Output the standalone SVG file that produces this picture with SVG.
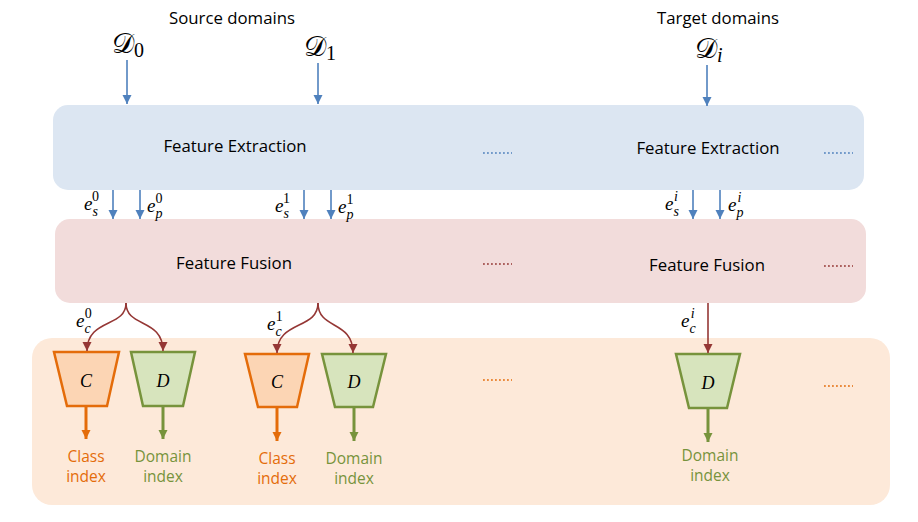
<svg xmlns="http://www.w3.org/2000/svg" width="918" height="522" viewBox="0 0 918 522">
<defs>
<marker id="mb" markerWidth="10" markerHeight="10" refX="9" refY="5" orient="auto" markerUnits="userSpaceOnUse"><path d="M0,0.5 L9,5 L0,9.5 Z" fill="#4f81bd"/></marker>
<marker id="mr" markerWidth="10" markerHeight="10" refX="9" refY="5" orient="auto" markerUnits="userSpaceOnUse"><path d="M0,0.5 L9,5 L0,9.5 Z" fill="#953735"/></marker>
<marker id="mo" markerWidth="10" markerHeight="10" refX="9" refY="5" orient="auto" markerUnits="userSpaceOnUse"><path d="M0,0.5 L9,5 L0,9.5 Z" fill="#e46c0a"/></marker>
<marker id="mg" markerWidth="10" markerHeight="10" refX="9" refY="5" orient="auto" markerUnits="userSpaceOnUse"><path d="M0,0.5 L9,5 L0,9.5 Z" fill="#77933c"/></marker>
</defs>
<style>
.lbl{font-family:"Open Sans","Noto Sans",sans-serif;font-size:16.8px;fill:#000;text-anchor:middle}
.m{font-family:"Liberation Serif","DejaVu Serif",serif;font-style:italic;fill:#000}
.cal{font-family:"DejaVu Sans","Noto Sans",serif;font-size:28px;fill:#000}
.sub{font-family:"Liberation Serif","DejaVu Serif",serif;font-size:20px;fill:#000}
.ab{stroke:#4f81bd;stroke-width:1.6;fill:none;marker-end:url(#mb)}
.ar{stroke:#953735;stroke-width:1.6;fill:none;marker-end:url(#mr)}
.ao{stroke:#e46c0a;stroke-width:3;fill:none;marker-end:url(#mo)}
.ag{stroke:#77933c;stroke-width:3;fill:none;marker-end:url(#mg)}
.dot{stroke-width:1.6;stroke-dasharray:1.8 2.2;fill:none}
.ctr{fill:#fcd5b4;stroke:#e46c0a;stroke-width:2.5}
.dtr{fill:#d7e4bd;stroke:#77933c;stroke-width:2.5}
.to{font-family:"Open Sans","Noto Sans",sans-serif;font-size:15.5px;fill:#e46c0a;text-anchor:middle}
.tg{font-family:"Open Sans","Noto Sans",sans-serif;font-size:15.5px;fill:#77933c;text-anchor:middle}
</style>
<rect width="918" height="522" fill="#fff"/>
<g id="bottom-panel"><rect x="32" y="338" width="858" height="167" rx="20" fill="#fde9d9"/></g>
<g id="feature-extraction"><rect x="53" y="105" width="811" height="85" rx="15" fill="#dce6f2"/>
<text class="lbl" x="235" y="152">Feature Extraction</text>
<text class="lbl" x="708" y="154">Feature Extraction</text></g>
<g id="feature-fusion"><rect x="55" y="219" width="811" height="84" rx="15" fill="#f2dcdb"/>
<text class="lbl" x="234" y="269">Feature Fusion</text>
<text class="lbl" x="707" y="271">Feature Fusion</text></g>
<g id="headers">
<text class="lbl" x="232" y="24">Source domains</text>
<text class="lbl" x="718" y="24">Target domains</text>
<text x="112" y="53"><tspan class="cal">𝒟</tspan><tspan class="sub" dy="4">0</tspan></text>
<text x="304" y="56"><tspan class="cal">𝒟</tspan><tspan class="sub" dy="4">1</tspan></text>
<text x="695" y="58"><tspan class="cal">𝒟</tspan><tspan class="sub m" dy="4">i</tspan></text>
</g>
<g id="dots">
<line class="dot" x1="483" y1="153" x2="512" y2="153" stroke="#4f81bd"/>
<line class="dot" x1="824" y1="153" x2="853" y2="153" stroke="#4f81bd"/>
<line class="dot" x1="483" y1="264" x2="512" y2="264" stroke="#953735"/>
<line class="dot" x1="824" y1="266" x2="853" y2="266" stroke="#953735"/>
<line class="dot" x1="483" y1="380" x2="512" y2="380" stroke="#e46c0a"/>
<line class="dot" x1="824" y1="386" x2="853" y2="386" stroke="#e46c0a"/>
</g>
<g id="classifiers">
<g id="C0"><polygon class="ctr" points="54,352 119,352 107,406 67,406"/><text class="m" x="86" y="387" font-size="18" text-anchor="middle">C</text></g>
<g id="D0"><polygon class="dtr" points="131,352 195,352 183,406 143,406"/><text class="m" x="163" y="387" font-size="18" text-anchor="middle">D</text></g>
<g id="C1"><polygon class="ctr" points="245,354 309,354 297,407 258,407"/><text class="m" x="277" y="388" font-size="18" text-anchor="middle">C</text></g>
<g id="D1"><polygon class="dtr" points="322,354 386,354 373,407 335,407"/><text class="m" x="354" y="388" font-size="18" text-anchor="middle">D</text></g>
<g id="Di"><polygon class="dtr" points="676,354 740,354 727,408 689,408"/><text class="m" x="708" y="389" font-size="18" text-anchor="middle">D</text></g>
</g>
<g id="outputs">
<text class="to" x="86" y="462">Class</text><text class="to" x="86" y="482">index</text>
<text class="tg" x="163" y="462">Domain</text><text class="tg" x="163" y="482">index</text>
<text class="to" x="277" y="464">Class</text><text class="to" x="277" y="484">index</text>
<text class="tg" x="354" y="464">Domain</text><text class="tg" x="354" y="484">index</text>
<text class="tg" x="710" y="461">Domain</text><text class="tg" x="710" y="481">index</text>
</g>
<g id="edge-labels" class="m" font-size="19">
<text x="84" y="210">e<tspan font-size="14" dy="6">s</tspan><tspan font-size="14" dx="-6" dy="-15" font-style="normal">0</tspan></text>
<text x="147" y="212">e<tspan font-size="14" dy="6">p</tspan><tspan font-size="14" dx="-7" dy="-15" font-style="normal">0</tspan></text>
<text x="275" y="212">e<tspan font-size="14" dy="6">s</tspan><tspan font-size="14" dx="-6" dy="-15" font-style="normal">1</tspan></text>
<text x="338" y="213">e<tspan font-size="14" dy="6">p</tspan><tspan font-size="14" dx="-7" dy="-15" font-style="normal">1</tspan></text>
<text x="665" y="210">e<tspan font-size="14" dy="6">s</tspan><tspan font-size="14" dx="-5" dy="-15">i</tspan></text>
<text x="728" y="211">e<tspan font-size="14" dy="6">p</tspan><tspan font-size="14" dx="-6" dy="-15">i</tspan></text>
<text x="76" y="327">e<tspan font-size="14" dy="6">c</tspan><tspan font-size="14" dx="-6" dy="-15" font-style="normal">0</tspan></text>
<text x="267" y="330">e<tspan font-size="14" dy="6">c</tspan><tspan font-size="14" dx="-6" dy="-15" font-style="normal">1</tspan></text>
<text x="681" y="327">e<tspan font-size="14" dy="6">c</tspan><tspan font-size="14" dx="-5" dy="-15">i</tspan></text>
</g>
<g id="connectors">
<line class="ab" x1="127" y1="60" x2="127" y2="104"/>
<line class="ab" x1="318" y1="63" x2="318" y2="104"/>
<line class="ab" x1="707" y1="65" x2="707" y2="106"/>
<line class="ab" x1="113" y1="190" x2="113" y2="219"/>
<line class="ab" x1="140" y1="190" x2="140" y2="219"/>
<line class="ab" x1="304" y1="190" x2="304" y2="219"/>
<line class="ab" x1="331" y1="190" x2="331" y2="219"/>
<line class="ab" x1="693" y1="190" x2="693" y2="219"/>
<line class="ab" x1="720" y1="190" x2="720" y2="219"/>
<path class="ar" d="M126,303 C126,328 87,318 87,351"/>
<path class="ar" d="M126,303 C126,328 163,318 163,351"/>
<path class="ar" d="M318,303 C318,330 277,320 277,353"/>
<path class="ar" d="M318,303 C318,330 353,320 353,353"/>
<line class="ar" x1="708" y1="303" x2="708" y2="353"/>
<line class="ao" x1="86" y1="406" x2="86" y2="439"/>
<line class="ag" x1="163" y1="406" x2="163" y2="439"/>
<line class="ao" x1="277" y1="407" x2="277" y2="441"/>
<line class="ag" x1="354" y1="407" x2="354" y2="441"/>
<line class="ag" x1="708" y1="408" x2="708" y2="442"/>
</g>
</svg>
